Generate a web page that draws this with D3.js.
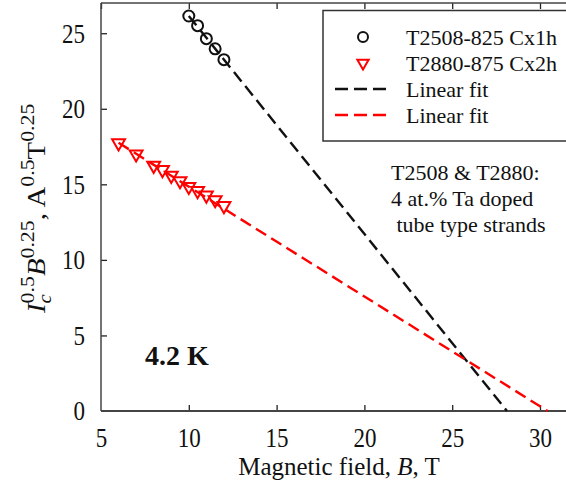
<!DOCTYPE html>
<html>
<head>
<meta charset="utf-8">
<script src="https://cdn.jsdelivr.net/npm/d3@7"></script>
<style>
  body { margin: 0; background: #fff; }
  text { font-family: "Liberation Serif", "Times New Roman", serif; fill: #111; }
</style>
</head>
<body>
<div id="graph"></div>
<script>
// T2508-825 Cx1h (circles)
const fieldA = [10, 10.5, 11, 11.5, 12];
const valueA = [26.14, 25.5, 24.64, 23.97, 23.25];

// T2880-875 Cx2h (triangles)
const fieldB = [6, 7, 8, 8.5, 9, 9.5, 10, 10.5, 11, 11.5, 12];
const valueB = [17.73, 17.0, 16.25, 15.96, 15.58, 15.23, 14.85, 14.57, 14.28, 13.97, 13.58];

// linear fit end points
const fitFieldA = [10, 28.12];
const fitValueA = [26.14, 0];
const fitFieldB = [6, 30.43];
const fitValueB = [17.75, 0];

const xTicks = [5, 10, 15, 20, 25, 30];
const yTicks = [0, 5, 10, 15, 20, 25];
const legendLabels = ['T2508-825 Cx1h', 'T2880-875 Cx2h', 'Linear fit', 'Linear fit'];
const noteLines = ['T2508 & T2880:', '4 at.% Ta doped', ' tube type strands'];

const width = 566, height = 486;
const plotLeft = 101, plotBottom = 411, plotTop = 3;

const x = d3.scaleLinear().domain([5, 30]).range([plotLeft, 540]);
const y = d3.scaleLinear().domain([0, 27]).range([plotBottom, plotTop]);

const svg = d3.select('#graph')
  .append('svg')
    .attr('width', width)
    .attr('height', height);

svg.append('rect').attr('width', width).attr('height', height).attr('fill', '#fff');

// axes (ticks point inward), labels a bit tall like the original
const axisColor = '#444';
const xAxis = svg.append('g')
  .attr('transform', `translate(0,${plotBottom})`)
  .call(d3.axisBottom(x).tickValues(xTicks).tickSizeInner(-6).tickSizeOuter(0).tickPadding(14));
const xTop = svg.append('g')
  .attr('transform', `translate(0,${plotTop})`)
  .call(d3.axisTop(x).tickValues(xTicks).tickSizeInner(-6).tickSizeOuter(0).tickFormat(''));
const yAxis = svg.append('g')
  .attr('transform', `translate(${plotLeft},0)`)
  .call(d3.axisLeft(y).tickValues(yTicks).tickSizeInner(-6).tickSizeOuter(0).tickPadding(16));

[xAxis, xTop, yAxis].forEach(g => {
  g.select('.domain').remove();
  g.selectAll('line').attr('stroke', '#222').attr('stroke-width', 1.3);
  g.selectAll('text')
    .style('font-family', '"Liberation Serif", serif')
    .style('font-size', '23px')
    .attr('fill', '#111')
    .attr('transform', 'scale(1,1.2)');
});
xAxis.selectAll('.tick:first-of-type line').remove();
yAxis.selectAll('.tick:first-of-type line').remove();

svg.append('line').attr('x1', plotLeft).attr('x2', width).attr('y1', plotBottom).attr('y2', plotBottom)
  .attr('stroke', axisColor).attr('stroke-width', 2);
svg.append('line').attr('x1', plotLeft).attr('x2', width).attr('y1', plotTop).attr('y2', plotTop)
  .attr('stroke', axisColor).attr('stroke-width', 1.5);
svg.append('line').attr('x1', plotLeft).attr('x2', plotLeft).attr('y1', plotTop).attr('y2', plotBottom)
  .attr('stroke', axisColor).attr('stroke-width', 1.5);

// fit lines
const line = d3.line().x(d => x(d[0])).y(d => y(d[1]));
svg.append('path')
  .datum(d3.zip(fitFieldA, fitValueA))
  .attr('d', line).attr('fill', 'none')
  .attr('stroke', '#111').attr('stroke-width', 2.4).attr('stroke-dasharray', '12,6');
svg.append('path')
  .datum(d3.zip(fitFieldB, fitValueB))
  .attr('d', line).attr('fill', 'none')
  .attr('stroke', '#ff0000').attr('stroke-width', 2.4).attr('stroke-dasharray', '12,6');

// markers
const tri = d3.symbol().type(d3.symbolTriangle).size(72);
svg.selectAll('.tri')
  .data(d3.zip(fieldB, valueB))
  .enter()
    .append('path')
    .attr('d', tri)
    .attr('transform', d => `translate(${x(d[0])},${y(d[1])}) rotate(180)`)
    .attr('fill', 'none').attr('stroke', '#ff0000').attr('stroke-width', 2);

svg.selectAll('.circ')
  .data(d3.zip(fieldA, valueA))
  .enter()
    .append('circle')
    .attr('cx', d => x(d[0]))
    .attr('cy', d => y(d[1]))
    .attr('r', 5.5)
    .attr('fill', 'none').attr('stroke', '#111').attr('stroke-width', 2);

// legend
const legend = svg.append('g');
legend.append('rect')
  .attr('x', 323).attr('y', 10.5).attr('width', 260).attr('height', 130.5)
  .attr('fill', '#fff').attr('stroke', '#333').attr('stroke-width', 1.5);
const rowY = [37, 63, 89, 115];
legend.selectAll('text')
  .data(legendLabels)
  .enter()
    .append('text')
    .attr('x', 406)
    .attr('y', (d, i) => rowY[i] + 8)
    .style('font-size', '22px')
    .text(d => d);
legend.append('circle').attr('cx', 363).attr('cy', rowY[0]).attr('r', 5)
  .attr('fill', 'none').attr('stroke', '#111').attr('stroke-width', 2);
legend.append('path').attr('d', d3.symbol().type(d3.symbolTriangle).size(55))
  .attr('transform', `translate(363,${rowY[1]}) rotate(180)`)
  .attr('fill', 'none').attr('stroke', '#ff0000').attr('stroke-width', 2);
legend.append('line').attr('x1', 335).attr('x2', 387).attr('y1', rowY[2]).attr('y2', rowY[2])
  .attr('stroke', '#111').attr('stroke-width', 2.4).attr('stroke-dasharray', '13,6');
legend.append('line').attr('x1', 335).attr('x2', 387).attr('y1', rowY[3]).attr('y2', rowY[3])
  .attr('stroke', '#ff0000').attr('stroke-width', 2.4).attr('stroke-dasharray', '13,6');

// notes
svg.selectAll('.note')
  .data(noteLines)
  .enter()
    .append('text')
    .attr('x', 391)
    .attr('y', (d, i) => 180 + i * 26)
    .style('font-size', '22px')
    .style('white-space', 'pre')
    .text(d => d);

svg.append('text')
  .attr('x', 145).attr('y', 365)
  .style('font-size', '28px').style('font-weight', 'bold')
  .text('4.2 K');

// axis titles
svg.append('text')
  .attr('x', 339).attr('y', 475)
  .attr('text-anchor', 'middle')
  .style('font-size', '25px')
  .call(t => {
    t.append('tspan').text('Magnetic field, ');
    t.append('tspan').style('font-style', 'italic').text('B');
    t.append('tspan').text(', T');
  });

const yl = svg.append('text')
  .attr('transform', 'translate(45,313) rotate(-90) scale(1.15,1)')
  .style('font-size', '25px');
yl.append('tspan').style('font-style', 'italic').text('I');
yl.append('tspan').style('font-style', 'italic').style('font-size', '18px').attr('dy', 6).text('c');
yl.append('tspan').style('font-size', '19px').attr('dx', -8).attr('dy', -17).text('0.5');
yl.append('tspan').style('font-style', 'italic').attr('dy', 11).text('B');
yl.append('tspan').style('font-size', '19px').attr('dy', -11).text('0.25');
yl.append('tspan').attr('dy', 11).text(', A');
yl.append('tspan').style('font-size', '19px').attr('dy', -11).text('0.5');
yl.append('tspan').attr('dy', 11).text('T');
yl.append('tspan').style('font-size', '19px').attr('dy', -11).text('0.25');
</script>
</body>
</html>
